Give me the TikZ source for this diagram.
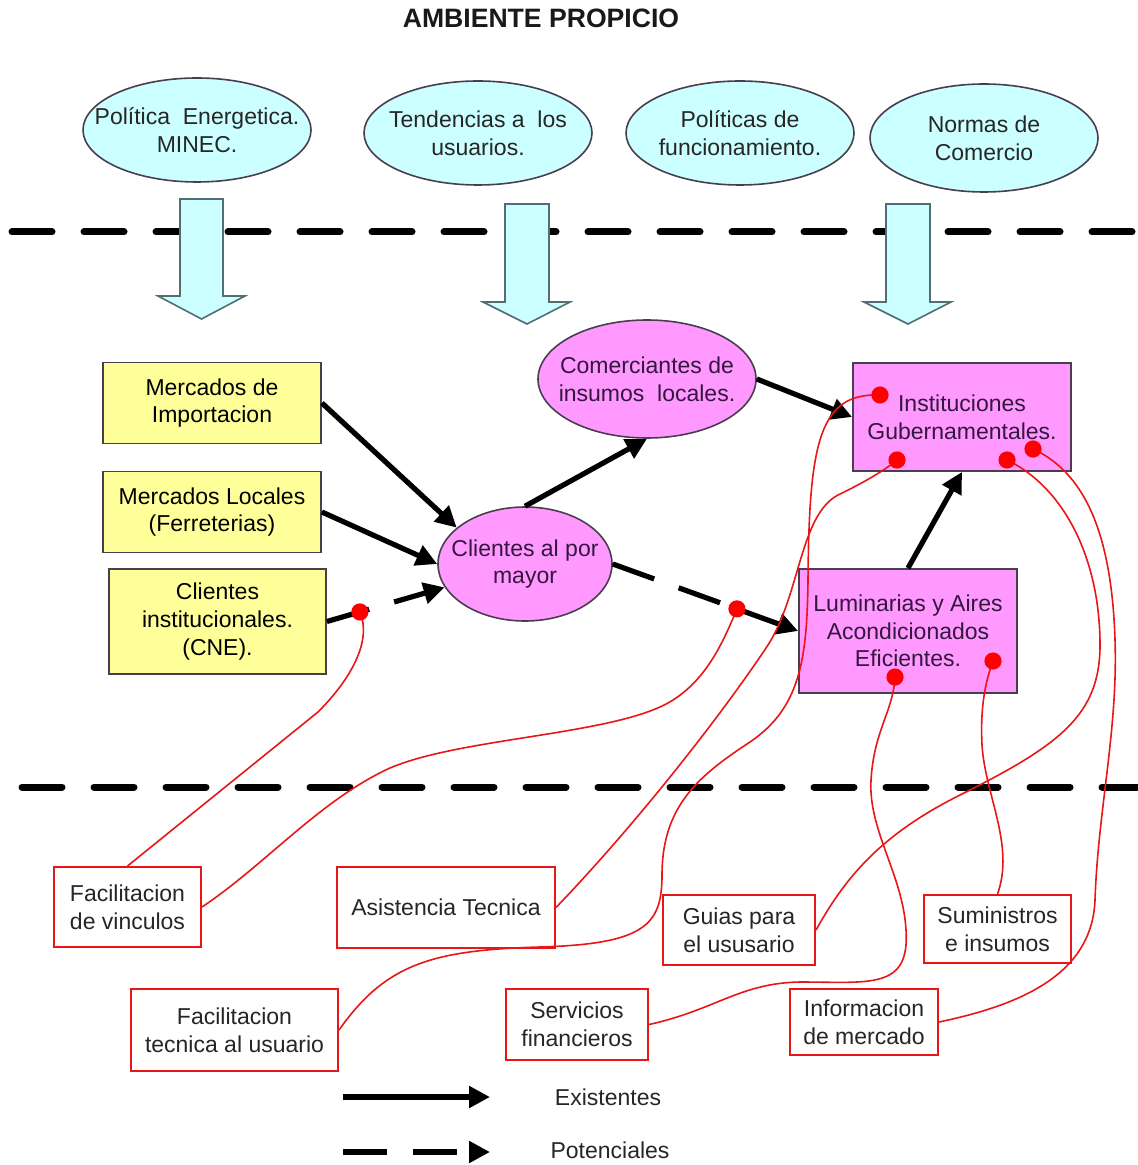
\documentclass[tikz,border=0pt]{standalone}
\usepackage{fontspec}
\setmainfont{Liberation Sans}
\usepackage{tikz}
\usetikzlibrary{arrows.meta}
\usetikzlibrary{positioning}
\usetikzlibrary{shapes.geometric}
\definecolor{envcyan}{RGB}{204,255,255}
\definecolor{envyellow}{RGB}{255,255,153}
\definecolor{envpink}{RGB}{255,153,255}
\definecolor{envred}{RGB}{232,22,22}
\definecolor{envedge}{RGB}{72,62,78}
\definecolor{arredge}{RGB}{80,110,115}
\definecolor{pinktext}{RGB}{52,22,62}
\tikzstyle{every node}+=[inner sep=0pt, font=\fontsize{11.5}{13.8}\selectfont]
\tikzstyle{topell} = [ellipse, draw=envedge, fill=envcyan, line width=0.8pt, minimum width=114pt, minimum height=52pt]
\tikzstyle{pinkell} = [ellipse, draw=envedge, fill=envpink, line width=0.8pt]
\tikzstyle{txt} = [align=center, text=black!85]
\tikzstyle{ptxt} = [align=center, text=pinktext]
\tikzstyle{yblock} = [rectangle, draw=envedge, fill=envyellow, line width=0.9pt, align=center, minimum width=109pt]
\tikzstyle{pblock} = [rectangle, draw=envedge, fill=envpink, line width=0.9pt, align=center, text=pinktext, minimum width=109pt]
\tikzstyle{rblock} = [rectangle, draw=envred, fill=white, line width=1pt, align=center, text=black!85]
\tikzstyle{exline} = [draw, line width=2.6pt, -{Triangle[length=10.5pt,width=10.5pt]}]
\tikzstyle{potline} = [exline, dash pattern=on 22pt off 13pt]
\tikzstyle{link} = [draw=envred, line width=0.8pt]
\tikzstyle{sepline} = [line width=3.5pt, line cap=round, dash pattern=on 20pt off 16pt]
\tikzstyle{fatarrow} = [draw=arredge, fill=envcyan, line width=0.8pt]
\begin{document}
\begin{tikzpicture}[x=0.5pt, y=-0.5pt]
            \useasboundingbox (0,0) rectangle (1137,1165);
            % Separators and big arrows
            \draw[sepline] (12,232) -- (1137,232);
            \draw[sepline] (22,787) -- (1137,787);
            \draw[fatarrow] (180,199) -- (223,199) -- (223,296) -- (245,296) -- (201.5,319) -- (158,296) -- (180,296) -- cycle;
            \draw[fatarrow] (505,204) -- (549,204) -- (549,302) -- (570,302) -- (527,324) -- (483,302) -- (505,302) -- cycle;
            \draw[fatarrow] (886,204) -- (930,204) -- (930,302) -- (951,302) -- (908,324) -- (864,302) -- (886,302) -- cycle;
            % Place nodes
            \node [font=\bfseries\fontsize{13.3}{16}\selectfont, text=black!90] (title) at (541,18) {AMBIENTE PROPICIO};
            \node [topell] (pol) at (197,130) {};
            \node [txt] (pol-t) at (pol) {Política\ \ Energetica.\\MINEC.};
            \node [topell] (ten) at (478,133) {};
            \node [txt] (ten-t) at (ten) {Tendencias a\ \ los\\usuarios.};
            \node [topell] (fun) at (740,133) {};
            \node [txt] (fun-t) at (fun) {Políticas de\\funcionamiento.};
            \node [topell, minimum height=54pt] (nor) at (984,138) {};
            \node [txt] (nor-t) at (nor) {Normas de\\Comercio};
            \node [yblock, minimum height=40.5pt] (imp) at (212,403) {Mercados de\\Importacion};
            \node [yblock, minimum height=40.5pt] (loc) at (212,512) {Mercados Locales\\(Ferreterias)};
            \node [yblock, minimum width=108.5pt, minimum height=52.5pt] (cin) at (217.5,621.5) {Clientes\\institucionales.\\(CNE).};
            \node [pinkell, minimum width=87pt, minimum height=57pt] (may) at (525,564) {};
            \node [ptxt] (may-t) at (may) {Clientes al por\\mayor};
            \node [pinkell, minimum width=109pt, minimum height=59pt] (com) at (647,379) {};
            \node [ptxt] (com-t) at (com) {Comerciantes de\\insumos\ \ locales.};
            \node [pblock, minimum height=54pt] (ins) at (962,417) {Instituciones\\Gubernamentales.};
            \node [pblock, minimum height=62pt] (lum) at (908,631) {Luminarias y Aires\\Acondicionados\\Eficientes.};
            \node [rblock, minimum width=73.5pt, minimum height=40pt] (fv) at (127.5,907) {Facilitacion\\de vinculos};
            \node [rblock, minimum width=109pt, minimum height=40.5pt] (at) at (446,907.5) {Asistencia Tecnica};
            \node [rblock, minimum width=76pt, minimum height=35pt] (gu) at (739,930) {Guias para\\el ususario};
            \node [rblock, minimum width=73.5pt, minimum height=34pt] (su) at (997.5,929) {Suministros\\e insumos};
            \node [rblock, minimum width=103.5pt, minimum height=41pt] (ft) at (234.5,1030) {Facilitacion\\tecnica al usuario};
            \node [rblock, minimum width=71pt, minimum height=35.5pt] (sf) at (577,1024.5) {Servicios\\financieros};
            \node [rblock, minimum width=74pt, minimum height=33pt] (im) at (864,1022) {Informacion\\de mercado};
            % Draw edges
            \path [exline] (imp.east) -- (may.152);
            \path [exline] (loc.east) -- (may.west);
            \path [potline] (cin.east) -- coordinate[pos=0.28] (d1) (may);
            \path [exline] (may.north) -- (com.south);
            \path [exline] (com.east) -- (ins.west);
            \path [potline] (may.east) -- coordinate[pos=0.67] (d2) (lum.west);
            \path [exline] (lum.north) -- (ins.south);
            % Support links
            \coordinate (d3) at (880,395);
            \coordinate (d4) at (897,460);
            \coordinate (d5) at (1007,460);
            \coordinate (d6) at (1033,449);
            \coordinate (d7) at (895,677);
            \coordinate (d8) at (993,661);
            \path [link] (fv.north) -- (318,712) .. controls (352,678) and (372,640) .. (d1);
            \path [link] (fv.east) .. controls (265,865) and (320,800) .. (390,768) .. controls (460,738) and (610,735) .. (668,703) .. controls (705,682) and (722,645) .. (d2);
            \path [link] (at.east) .. controls (640,820) and (725,710) .. (768,645) .. controls (800,595) and (800,515) .. (838,495) .. controls (865,482) and (885,470) .. (d4);
            \path [link] (ft.east) .. controls (385,965) and (430,950) .. (540,947) .. controls (645,944) and (662,925) .. (662,875) .. controls (662,805) and (700,775) .. (750,742) .. controls (800,708) and (807,660) .. (808,580) .. controls (809,440) and (820,393) .. (d3);
            \path [link] (gu.east) .. controls (845,878) and (880,835) .. (960,795) .. controls (1060,745) and (1100,715) .. (1100,645) .. controls (1100,560) and (1065,488) .. (d5);
            \path [link] (sf.east) .. controls (715,1010) and (740,983) .. (800,982) .. controls (870,982) and (910,990) .. (906,930) .. controls (903,875) and (868,830) .. (871,780) .. controls (874,730) and (893,712) .. (d7);
            \path [link] (su.north) .. controls (1015,845) and (985,795) .. (982,745) .. controls (980,705) and (986,680) .. (d8);
            \path [link] (im.east) .. controls (1020,1005) and (1092,975) .. (1095,900) .. controls (1098,810) and (1118,730) .. (1115,640) .. controls (1112,545) and (1090,475) .. (d6);
            \fill [red] (d1) circle (4.3pt) (d2) circle (4.3pt) (d3) circle (4.3pt) (d4) circle (4.3pt)
                        (d5) circle (4.3pt) (d6) circle (4.3pt) (d7) circle (4.3pt) (d8) circle (4.3pt);
            % Legend
            \coordinate (ex-a) at (343,1097);
            \coordinate (ex-b) at (490,1097);
            \coordinate (po-a) at (343,1152);
            \coordinate (po-b) at (490,1152);
            \path [exline] (ex-a) -- (ex-b);
            \path [potline] (po-a) -- (po-b);
            \node [txt] (ex-t) at (608,1097) {Existentes};
            \node [txt] (po-t) at (610,1150) {Potenciales};
          \end{tikzpicture}
\end{document}
